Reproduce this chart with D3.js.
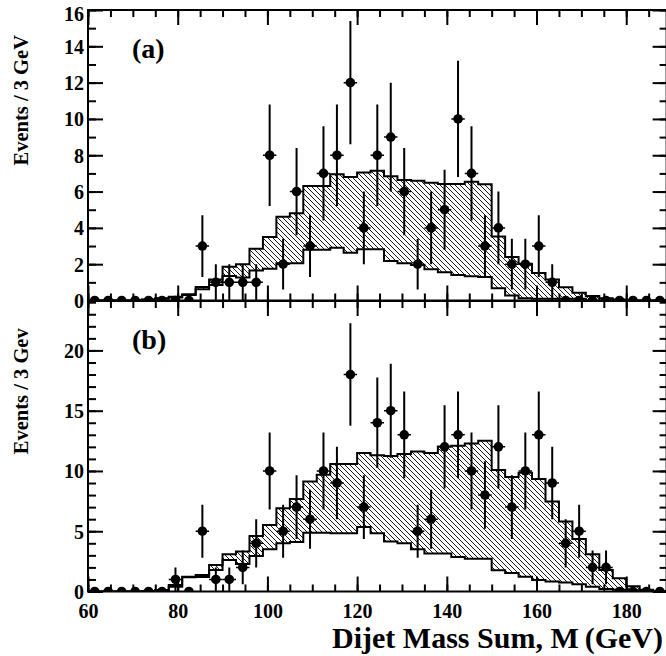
<!DOCTYPE html>
<html><head><meta charset="utf-8">
<script src="https://cdn.jsdelivr.net/npm/d3@7"></script>
<style>
html,body{margin:0;padding:0;background:#fff;}
svg{display:block;}
text{font-family:"Liberation Serif","Times New Roman",serif;font-weight:bold;fill:#000;}
</style></head><body>
<script>
// ---- data ----
const binCenters = [61.5,64.5,67.5,70.5,73.5,76.5,79.5,82.5,85.5,88.5,91.5,94.5,97.5,100.5,103.5,106.5,109.5,112.5,115.5,118.5,121.5,124.5,127.5,130.5,133.5,136.5,139.5,142.5,145.5,148.5,151.5,154.5,157.5,160.5,163.5,166.5,169.5,172.5,175.5,178.5,181.5,184.5,187.5];
const binWidth = 3;

// panel (a) observed events and errors
const dataA = [0,0,0,0,0,0,0,0,3,1,1,1,1,8,2,6,3,7,8,12,4,8,9,6,2,4,5,10,7,3,4,2,2,3,1,0,0,0,0,0,0,0,0];
const errA  = [0,0,0,0,0,0,0,0,1.7,1,1,1,1,2.8,1.4,2.4,1.7,2.6,2.8,3.4,2,2.8,3,2.4,1.4,2,2.2,3.2,2.6,1.7,2,1.4,1.4,1.7,1,0,0,0,0,0,0,0,0];
// panel (a) expectation band (upper / lower edges)
const upperA = [0,0,0,0,0.05,0.12,0.2,0.35,0.75,1.15,1.86,1.99,2.85,3.5,4.61,4.8,6.3,6.3,6.96,6.8,7.05,7.14,6.85,6.63,6.6,6.48,6.41,6.41,6.54,6.4,3.53,2.4,2.03,1.52,1.15,0.73,0.43,0.25,0.12,0.05,0,0,0];
const lowerA = [0,0,0,0,0.04,0.1,0.17,0.3,0.62,0.85,1.35,1.26,1.65,1.75,2.05,2.05,2.8,2.8,2.9,2.63,2.82,2.82,2.18,2.05,1.95,1.72,1.56,1.4,1.33,1.3,0.67,0.28,0.12,0.1,0.1,0.1,0.1,0,0,0,0,0,0];

// panel (b)
const dataB = [0,0,0,0,0,0,1,0,5,1,1,2,4,10,5,7,6,10,9,18,7,14,15,13,5,6,12,13,10,8,12,7,10,13,9,4,5,2,2,0,0,0,0];
const errB  = [0,0,0,0,0,0,1,0,2.2,1,1,1.4,2,3.2,2.2,2.65,2.45,3.2,3,4.25,2.65,3.75,3.9,3.6,2.2,2.45,3.45,3.6,3.2,2.8,3.45,2.65,3.2,3.6,3,2,2.2,1.4,1.4,0,0,0,0];
const upperB = [0,0,0,0,0.03,0.12,0.54,1.23,1.37,2.2,3.09,3.31,4.6,5.52,6.91,7.67,9.12,9.68,10.58,10.58,11.5,11.3,11.25,11.4,11.62,11.48,12.03,12.1,12.27,12.5,10.09,9.5,9.85,9.33,7.46,5.8,4.35,3.1,1.79,1.1,0.44,0.15,0];
const lowerB = [0,0,0,0,0.02,0.1,0.4,1.18,1.2,1.79,2.62,2.28,2.95,3.5,4.0,4.1,4.88,4.88,4.83,4.83,5.35,4.83,4.14,4.0,3.5,3.15,3.15,2.86,2.72,2.72,1.76,1.53,1.23,0.96,0.82,0.75,0.6,0.4,0.2,0.15,0.1,0.05,0];

const xTickLabels = [60,80,100,120,140,160,180];
const yTicksA = [0,2,4,6,8,10,12,14,16];
const yTicksB = [0,5,10,15,20];

// ---- layout ----
const W = 666, H = 656;
const svg = d3.select("body").append("svg").attr("width", W).attr("height", H);
const defs = svg.append("defs");
defs.append("pattern").attr("id","hatch").attr("patternUnits","userSpaceOnUse")
  .attr("width",5).attr("height",5)
  .append("path").attr("d","M-1,-1 L6,6 M-1,4 L1,6 M4,-1 L6,1")
  .attr("stroke","#000").attr("stroke-width",0.9).attr("fill","none");

const x = d3.scaleLinear().domain([60,189]).range([88,666.6]);

const panels = [
  {id:"a", label:"(a)", ytitle:"Events / 3 GeV", data:dataA, err:errA, up:upperA, lo:lowerA,
   y:d3.scaleLinear().domain([0,16]).range([300.5,10]), major:yTicksA, minorStep:1, top:10, bottom:300.5, xlabels:false},
  {id:"b", label:"(b)", ytitle:"Events / 3 Gev", data:dataB, err:errB, up:upperB, lo:lowerB,
   y:d3.scaleLinear().domain([0,24.1]).range([591.5,301]), major:yTicksB, minorStep:1, top:301, bottom:591.5, xlabels:true}
];

panels.forEach(p => {
  const g = svg.append("g");
  const y = p.y;
  const clipId = "clip"+p.id;
  defs.append("clipPath").attr("id",clipId).append("rect")
    .attr("x",x.range()[0]).attr("y",p.top).attr("width",x.range()[1]-x.range()[0]).attr("height",p.bottom-p.top);
  const plot = g.append("g").attr("clip-path",`url(#${clipId})`);

  const pts = (vals) => {
    const a = binCenters.map((c,i)=>({e:c-binWidth/2, v:vals[i]}));
    a.push({e:binCenters[binCenters.length-1]+binWidth/2, v:vals[vals.length-1]});
    return a;
  };
  const upPts = pts(p.up), loPts = pts(p.lo);
  const band = binCenters.map((c,i)=>({e:c-binWidth/2, u:p.up[i], l:p.lo[i]}));
  band.push({e:binCenters[binCenters.length-1]+binWidth/2, u:p.up[p.up.length-1], l:p.lo[p.lo.length-1]});

  plot.append("path").datum(band)
    .attr("d", d3.area().curve(d3.curveStepAfter).x(d=>x(d.e)).y0(d=>y(d.l)).y1(d=>y(d.u)))
    .attr("fill","url(#hatch)");
  const line = d3.line().curve(d3.curveStepAfter).x(d=>x(d.e)).y(d=>y(d.v));
  plot.append("path").datum(loPts).attr("d",line).attr("fill","none").attr("stroke","#000").attr("stroke-width",2);
  plot.append("path").datum(upPts).attr("d",line).attr("fill","none").attr("stroke","#000").attr("stroke-width",2);

  // data points
  const pd = binCenters.map((c,i)=>({c, v:p.data[i], e:p.err[i]}));
  const nz = pd.filter(d=>d.v>0);
  plot.selectAll(".ev").data(nz).join("line")
    .attr("x1",d=>x(d.c)).attr("x2",d=>x(d.c))
    .attr("y1",d=>y(d.v-d.e)).attr("y2",d=>y(d.v+d.e))
    .attr("stroke","#000").attr("stroke-width",2);
  plot.selectAll(".eh").data(nz).join("line")
    .attr("x1",d=>x(d.c-binWidth/2)).attr("x2",d=>x(d.c+binWidth/2))
    .attr("y1",d=>y(d.v)).attr("y2",d=>y(d.v))
    .attr("stroke","#000").attr("stroke-width",1.5);
  plot.selectAll(".pt").data(pd).join("circle")
    .attr("cx",d=>x(d.c)).attr("cy",d=>y(d.v)).attr("r",4.8).attr("fill","#000");

  // axes (inward ticks on all sides)
  const minorY = d3.range(y.domain()[0], Math.floor(y.domain()[1])+0.001, p.minorStep);
  const minorX = d3.range(60, 189, 5);
  const styleAxis = sel => { sel.select(".domain").remove(); sel.selectAll("line").attr("stroke","#000").attr("stroke-width",2); };

  g.append("g").attr("transform",`translate(${x.range()[0]},0)`)
    .call(d3.axisLeft(y).tickValues(minorY).tickSize(-8).tickFormat("")).call(styleAxis);
  const la = g.append("g").attr("transform",`translate(${x.range()[0]},0)`)
    .call(d3.axisLeft(y).tickValues(p.major).tickSize(-15).tickPadding(4)).call(styleAxis);
  la.selectAll("text").attr("font-size",20).attr("x",-4).attr("dy","0.34em");
  if (p.id === "a") la.selectAll(".tick").filter(d=>d===16).select("text").attr("dy","0.5em");

  g.append("g").attr("transform",`translate(${x.range()[1]},0)`)
    .call(d3.axisRight(y).tickValues(minorY).tickSize(-7).tickFormat("")).call(styleAxis);
  g.append("g").attr("transform",`translate(${x.range()[1]},0)`)
    .call(d3.axisRight(y).tickValues(p.major).tickSize(-14).tickFormat("")).call(styleAxis);

  g.append("g").attr("transform",`translate(0,${p.top})`)
    .call(d3.axisTop(x).tickValues(minorX).tickSize(-7).tickFormat("")).call(styleAxis);
  g.append("g").attr("transform",`translate(0,${p.top})`)
    .call(d3.axisTop(x).tickValues(xTickLabels).tickSize(-15).tickFormat("")).call(styleAxis);
  g.append("g").attr("transform",`translate(0,${p.bottom})`)
    .call(d3.axisBottom(x).tickValues(minorX).tickSize(-7).tickFormat("")).call(styleAxis);
  const bx = g.append("g").attr("transform",`translate(0,${p.bottom})`)
    .call(d3.axisBottom(x).tickValues(xTickLabels).tickSize(-15).tickPadding(12)
      .tickFormat(p.xlabels ? d3.format("d") : "")).call(styleAxis);
  bx.selectAll("text").attr("font-size",20);

  // frame
  g.append("rect").attr("x",x.range()[0]).attr("y",p.top)
    .attr("width",x.range()[1]-x.range()[0]).attr("height",p.bottom-p.top)
    .attr("fill","none").attr("stroke","#000").attr("stroke-width",2);

  // labels
  g.append("text").attr("x",132).attr("y",p.top+48).attr("font-size",28).text(p.label);
  const cy = (p.top+p.bottom)/2 - 55;
  g.append("text").attr("transform",`translate(28,${cy}) rotate(-90)`)
    .attr("text-anchor","middle").attr("font-size",20.5).text(p.ytitle);
});

svg.append("text").attr("x",663).attr("y",648).attr("text-anchor","end")
  .attr("font-size",30).text("Dijet Mass Sum, M\u2009(GeV)");
</script>
</body></html>
